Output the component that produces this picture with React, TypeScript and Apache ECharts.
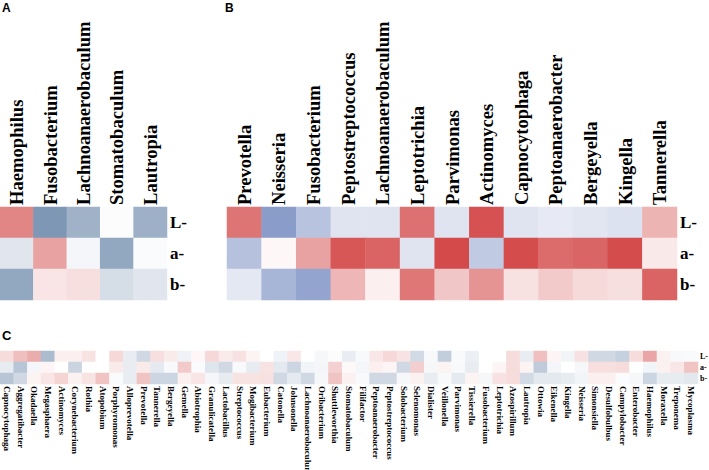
import React, { useEffect, useRef } from "react";
import * as echarts from "echarts";

const rowLabels = ["L", "a", "b"];

const catA = ["Haemophilus", "Fusobacterium", "Lachnoanaerobaculum", "Stomatobaculum", "Lautropia"];
const valsA_L = [0.62, -0.81, -0.6, -0.02, -0.61];
const valsA_a = [-0.19, 0.47, -0.07, -0.68, -0.03];
const valsA_b = [-0.68, 0.13, 0.16, -0.26, -0.19];

const catB = ["Prevotella", "Neisseria", "Fusobacterium", "Peptostreptococcus", "Lachnoanaerobaculum", "Leptotrichia", "Parvimonas", "Actinomyces", "Capnocytophaga", "Peptoanaerobacter", "Bergeyella", "Kingella", "Tannerella"];
const valsB_L = [0.7, -0.81, -0.49, -0.22, -0.22, 0.72, -0.22, 0.88, -0.22, -0.17, -0.21, -0.24, 0.38];
const valsB_a = [-0.51, 0.04, 0.47, 0.86, 0.79, -0.22, 0.92, -0.44, 0.91, 0.75, 0.78, 0.91, 0.11];
const valsB_b = [-0.19, -0.61, -0.75, 0.37, 0.08, 0.69, 0.29, 0.55, 0.15, 0.27, 0.19, 0.16, 0.79];

const catC = ["Capnocytophaga", "Aggregatibacter", "Okadaella", "Megasphaera", "Actinomyces", "Corynebacterium", "Rothia", "Atopobium", "Porphyromonas", "Alloprevotella", "Prevotella", "Tannerella", "Bergeyella", "Gemella", "Abiotrophia", "Granulicatella", "Lactobacillus", "Streptococcus", "Mogibacterium", "Eubacterium", "Catonella", "Johnsonella", "Lachnoanaerobaculum", "Oribacterium", "Shuttleworthia", "Stomatobaculum", "Filifactor", "Peptoanaerobacter", "Peptostreptococcus", "Solobacterium", "Selenomonas", "Dialister", "Veillonella", "Parvimonas", "Tissierella", "Fusobacterium", "Leptotrichia", "Azospirillum", "Lautropia", "Ottowia", "Eikenella", "Kingella", "Neisseria", "Simonsiella", "Desulfobulbus", "Campylobacter", "Enterobacter", "Haemophilus", "Moraxella", "Treponema", "Mycoplasma"];
const valsC_L = [0.18, 0.33, 0.42, -0.52, 0.08, 0.08, 0.14, 0, 0.2, -0.14, -0.3, 0.16, 0.1, -0.1, 0.04, 0.2, 0.1, 0.15, 0.06, 0, -0.1, 0.12, 0, -0.06, -0.02, -0.14, -0.05, 0.12, 0.2, 0.14, -0.28, -0.05, -0.38, -0.04, -0.12, 0, 0, 0.18, -0.14, 0.32, 0.05, -0.08, 0.15, -0.3, -0.3, -0.36, 0.18, 0.45, 0.07, -0.05, -0.04];
const valsC_a = [-0.15, -0.45, -0.07, 0.05, 0, -0.33, 0, 0, 0.1, -0.14, 0.1, -0.16, -0.05, 0.27, -0.03, -0.2, -0.3, -0.05, -0.15, 0.14, -0.17, -0.32, -0.08, -0.07, 0.24, 0.03, -0.07, 0.08, 0.05, -0.3, 0.25, -0.06, 0.06, -0.05, -0.14, 0, 0.05, 0.18, 0.06, -0.4, -0.07, 0, -0.06, 0.16, 0.16, 0.18, 0, -0.08, 0.07, 0.12, 0.3];
const valsC_b = [-0.45, -0.3, 0.06, 0.13, 0.22, 0.07, 0.14, 0.3, -0.03, -0.14, 0.3, -0.32, -0.32, 0.08, 0.13, -0.07, -0.15, 0.14, 0.14, 0.15, -0.3, -0.16, -0.3, -0.06, 0.3, 0.07, -0.05, -0.3, -0.3, -0.06, 0.07, -0.14, -0.05, -0.16, 0.06, -0.06, 0.15, 0.18, -0.28, -0.17, -0.17, -0.15, -0.08, 0.08, 0.08, -0.03, -0.06, -0.32, -0.15, -0.15, -0.18];

function toCells(rows: number[][]) {
  const out: number[][] = [];
  rows.forEach((r, yi) => r.forEach((v, xi) => out.push([xi, yi, v])));
  return out;
}

const serif = "'Liberation Serif', 'Times New Roman', serif";

export default function App() {
  const ref = useRef<HTMLDivElement>(null);
  useEffect(() => {
    if (!ref.current) return;
    const chart = echarts.init(ref.current, null, { renderer: "svg" });
    const xTop = (grid: number, data: string[]) => ({
      gridIndex: grid,
      type: "category",
      data,
      position: "top",
      axisLine: { show: false },
      axisTick: { show: false },
      splitLine: { show: false },
      axisLabel: { rotate: -90, interval: 0, fontFamily: serif, fontWeight: "bold", fontSize: 18.6, color: "#000", margin: 2 },
    });
    const yRight = (grid: number, size: number, margin: number) => ({
      gridIndex: grid,
      type: "category",
      data: rowLabels,
      inverse: true,
      position: "right",
      axisLine: { show: false },
      axisTick: { show: false },
      splitLine: { show: false },
      axisLabel: { interval: 0, fontFamily: serif, fontWeight: "bold", fontSize: size, color: "#000", margin, formatter: (v: string) => v + "-" },
    });
    chart.setOption({
      animation: false,
      backgroundColor: "#ffffff",
      grid: [
        { left: 0, top: 207, width: 167, height: 93, containLabel: false, outerBoundsMode: "none" },
        { left: 227, top: 207, width: 450, height: 93, containLabel: false, outerBoundsMode: "none" },
        { left: 0, top: 351, width: 698, height: 33, containLabel: false, outerBoundsMode: "none" },
      ],
      xAxis: [
        xTop(0, catA),
        xTop(1, catB),
        {
          gridIndex: 2,
          type: "category",
          data: catC,
          position: "bottom",
          axisLine: { show: false },
          axisTick: { show: false },
          splitLine: { show: false },
          axisLabel: { rotate: -90, interval: 0, fontFamily: serif, fontWeight: "bold", fontSize: 9, color: "#000", margin: 2 },
        },
      ],
      yAxis: [yRight(0, 17, 3), yRight(1, 17, 3), yRight(2, 8, 2)],
      visualMap: [
        { show: false, seriesIndex: 0, min: -1, max: 1, inRange: { color: ["#5f7ea3", "#ffffff", "#d03a3a"] } },
        { show: false, seriesIndex: 1, min: -1, max: 1, inRange: { color: ["#6f86bd", "#ffffff", "#d03a3a"] } },
        { show: false, seriesIndex: 2, min: -1, max: 1, inRange: { color: ["#5f7ea3", "#ffffff", "#d03a3a"] } },
      ],
      graphic: [
        { type: "text", left: 2, top: 2, style: { text: "A", font: "bold 12px 'Liberation Sans', Arial, sans-serif", fill: "#000" } },
        { type: "text", left: 225, top: 2, style: { text: "B", font: "bold 12px 'Liberation Sans', Arial, sans-serif", fill: "#000" } },
        { type: "text", left: 2, top: 329, style: { text: "C", font: "bold 13px 'Liberation Sans', Arial, sans-serif", fill: "#000" } },
      ],
      series: [
        { type: "heatmap", xAxisIndex: 0, yAxisIndex: 0, data: toCells([valsA_L, valsA_a, valsA_b]), emphasis: { disabled: true } },
        { type: "heatmap", xAxisIndex: 1, yAxisIndex: 1, data: toCells([valsB_L, valsB_a, valsB_b]), emphasis: { disabled: true } },
        { type: "heatmap", xAxisIndex: 2, yAxisIndex: 2, data: toCells([valsC_L, valsC_a, valsC_b]), emphasis: { disabled: true } },
      ],
    });
    return () => chart.dispose();
  }, []);
  return <div ref={ref} style={{ position: "fixed", left: 0, top: 0, width: 709, height: 470 }} />;
}
